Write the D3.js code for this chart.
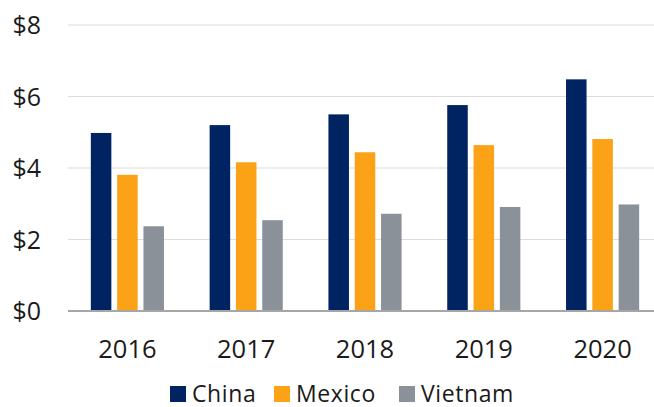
<!DOCTYPE html>
<html><head><meta charset="utf-8">
<script src="https://cdn.jsdelivr.net/npm/d3@7"></script>
<style>body{margin:0;background:#fff}svg{display:block}</style>
</head><body>
<svg id="chart" width="654" height="407"></svg>
<script>
const years = ["2016","2017","2018","2019","2020"];
const seriesNames = ["China","Mexico","Vietnam"];
const china = [4.98, 5.20, 5.50, 5.76, 6.48];
const mexico = [3.81, 4.16, 4.44, 4.64, 4.81];
const vietnam = [2.37, 2.54, 2.72, 2.91, 2.98];
const yTicks = [0, 2, 4, 6, 8];
const tickLabels = ["$0","$2","$4","$6","$8"];
const colors = ["#002361", "#fba216", "#8a9198"];

const seriesValues = [china, mexico, vietnam];
const svg = d3.select("#chart");
const font = "'Open Sans', 'Noto Sans', sans-serif";

const x0 = d3.scaleBand().domain(years).range([68, 662]).padding(0);
const x1 = d3.scaleBand().domain(seriesNames).range([0, x0.bandwidth()]).paddingInner(0.22).paddingOuter(0.868);
const y = d3.scaleLinear().domain([0, 8]).range([311, 25]);

// gridlines
svg.append("g").selectAll("line").data(yTicks.slice(1)).join("line")
  .attr("x1", 68).attr("x2", 654)
  .attr("y1", d => y(d)).attr("y2", d => y(d))
  .attr("stroke", "#dcdcdc").attr("stroke-width", 1.2);

// y labels
svg.append("g").selectAll("text").data(yTicks).join("text")
  .attr("x", 41).attr("y", d => y(d)).attr("dy", "0.36em")
  .attr("text-anchor", "end")
  .attr("font-family", font).attr("font-size", 25).attr("fill", "#1a1a1a")
  .text((d, i) => tickLabels[i]);

// bars
const groups = svg.append("g").selectAll("g").data(years).join("g")
  .attr("transform", d => `translate(${x0(d)},0)`);
groups.selectAll("rect").data((d, i) => seriesNames.map((s, j) => ({s, v: seriesValues[j][i], j})))
  .join("rect")
  .attr("x", d => x1(d.s)).attr("width", x1.bandwidth())
  .attr("y", d => y(d.v)).attr("height", d => y(0) - y(d.v))
  .attr("fill", d => colors[d.j]);

// baseline axis
svg.append("line").attr("x1", 68).attr("x2", 654).attr("y1", 311).attr("y2", 311)
  .attr("stroke", "#a6a6a6").attr("stroke-width", 2);

// x labels
svg.append("g").selectAll("text").data(years).join("text")
  .attr("x", d => x0(d) + x0.bandwidth() / 2).attr("y", 358)
  .attr("text-anchor", "middle")
  .attr("font-family", font).attr("font-size", 25.5).attr("fill", "#1a1a1a")
  .text(d => d);

// legend
const legendX = [170, 274, 399];
const leg = svg.append("g").selectAll("g").data(seriesNames).join("g")
  .attr("transform", (d, i) => `translate(${legendX[i]},0)`);
leg.append("rect").attr("x", 0).attr("y", 386).attr("width", 16).attr("height", 16)
  .attr("fill", (d, i) => colors[i]);
leg.append("text").attr("x", 22).attr("y", 401.5)
  .attr("font-family", font).attr("font-size", 23).attr("fill", "#1a1a1a")
  .attr("letter-spacing", "0.6px")
  .text(d => d);
</script>
</body></html>
